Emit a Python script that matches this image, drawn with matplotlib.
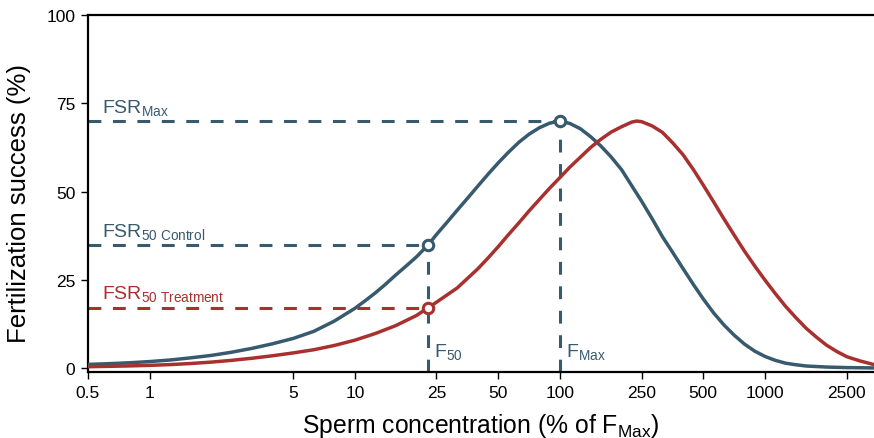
import matplotlib
matplotlib.use("Agg")
import matplotlib.pyplot as plt
from matplotlib.ticker import FixedLocator, NullLocator, FixedFormatter

plt.rcParams['font.family'] = ['Liberation Sans', 'DejaVu Sans']
plt.rcParams['mathtext.fontset'] = 'custom'
plt.rcParams['mathtext.rm'] = 'Liberation Sans'
plt.rcParams['mathtext.it'] = 'Liberation Sans:italic'
plt.rcParams['mathtext.bf'] = 'Liberation Sans:bold'

# ---- data (sperm concentration, % of F_Max) ----
control_x = [0.5, 0.63, 0.79, 1, 1.26, 1.58, 2.0, 2.51, 3.16, 3.98, 5.01, 6.31, 7.94,
             10, 11.2, 12.6, 14.1, 15.8, 17.8, 20, 22.8, 25.1, 28.2, 31.6, 35.5, 39.8,
             44.7, 50.1, 56.2, 63.1, 70.8, 79.4, 89.1, 100, 112, 126, 141, 158, 178, 200,
             224, 251, 282, 316, 355, 398, 447, 501, 562, 631, 708, 794, 891, 1000, 1122,
             1259, 1413, 1585, 1995, 2512, 3400]
control_y = [1.15, 1.35, 1.6, 1.95, 2.4, 3.0, 3.7, 4.6, 5.7, 7.0, 8.5, 10.5, 13.4,
             17.0, 19.1, 21.4, 23.8, 26.4, 29.0, 31.6, 35.0, 38.0, 41.4, 44.8, 48.2, 51.6,
             55.0, 58.2, 61.2, 64.0, 66.3, 68.1, 69.4, 70.0, 69.3, 67.8, 65.6, 63.0, 59.8, 56.2,
             51.7, 47.2, 42.3, 37.3, 32.8, 28.3, 23.8, 19.6, 15.7, 12.3, 9.4, 6.9, 4.9, 3.4, 2.3,
             1.5, 1.05, 0.7, 0.4, 0.25, 0.15]

treat_x = [0.5, 0.63, 0.79, 1, 1.26, 1.58, 2.0, 2.51, 3.16, 3.98, 5.01, 6.31, 7.94,
           10, 12.6, 15.8, 20, 22.8, 25.1, 31.6, 39.8, 44.7, 50.1, 56.2, 63.1, 70.8, 79.4,
           89.1, 100, 112, 126, 141, 158, 178, 200, 224, 237, 251, 282, 316, 355, 398, 447,
           501, 562, 631, 708, 794, 891, 1000, 1122, 1259, 1413, 1585, 1778, 1995, 2239,
           2512, 2917, 3400]
treat_y = [0.5, 0.6, 0.72, 0.88, 1.1, 1.4, 1.8, 2.3, 2.9, 3.6, 4.4, 5.3, 6.5,
           8.0, 9.9, 12.1, 15.0, 17.2, 18.8, 22.8, 28.2, 31.3, 34.5, 37.9, 41.2, 44.6, 47.8,
           51.0, 54.0, 57.0, 59.8, 62.5, 64.8, 66.9, 68.4, 69.7, 70.0, 69.8, 68.6, 66.8, 63.8,
           60.5, 56.3, 51.8, 47.1, 42.3, 37.7, 33.2, 29.0, 25.0, 21.2, 17.6, 14.4, 11.4, 8.9,
           6.6, 4.8, 3.3, 2.1, 1.1]

fsr_max = 70.0
f_max = 100
f50 = 22.8
fsr50_control = 35.0
fsr50_treatment = 17.2

xticks = [0.5, 1, 5, 10, 25, 50, 100, 250, 500, 1000, 2500]
xtick_labels = ['0.5', '1', '5', '10', '25', '50', '100', '250', '500', '1000', '2500']
yticks = [0, 25, 50, 75, 100]

BLUE = '#385a6e'
RED = '#a8302f'

fig = plt.figure(figsize=(8.74, 4.39), dpi=100)
ax = fig.add_axes([88/874, 1-373/439, 1-88/874, (373-16)/439])
ax.set_xscale('log')
ax.set_xlim(0.5, 3400)
ax.set_ylim(-1, 100)

dash_kw = dict(lw=2.2, dashes=(4.2, 3.8), zorder=2)
# horizontal guides
ax.plot([0.5, f_max], [fsr_max, fsr_max], color=BLUE, **dash_kw)
ax.plot([0.5, f50], [fsr50_control, fsr50_control], color=BLUE, **dash_kw)
ax.plot([0.5, f50], [fsr50_treatment, fsr50_treatment], color=RED, **dash_kw)
# vertical guides
ax.plot([f_max, f_max], [-1, fsr_max], color=BLUE, **dash_kw)
ax.plot([f50, f50], [-1, fsr50_control], color=BLUE, **dash_kw)

ax.plot(control_x, control_y, color=BLUE, lw=2.5, zorder=3,
        solid_capstyle='round', solid_joinstyle='round')
ax.plot(treat_x, treat_y, color=RED, lw=2.5, zorder=3,
        solid_capstyle='round', solid_joinstyle='round')

mk = dict(marker='o', ms=7.5, mfc='white', mew=2.2, ls='none', zorder=5, clip_on=False)
ax.plot([f_max], [fsr_max], mec=BLUE, **mk)
ax.plot([f50], [fsr50_control], mec=BLUE, **mk)
ax.plot([f50], [fsr50_treatment], mec=RED, **mk)

# labels
lab = dict(fontsize=14, va='baseline')
ax.text(0.585, 72.6, r'FSR$_{\mathrm{Max}}$', color=BLUE, **lab)
ax.text(0.585, 37.6, r'FSR$_{\mathrm{50\ Control}}$', color=BLUE, **lab)
ax.text(0.585, 19.8, r'FSR$_{\mathrm{50\ Treatment}}$', color=RED, **lab)
ax.text(24.2, 3.4, r'F$_{\mathrm{50}}$', color=BLUE, **lab)
ax.text(107, 3.4, r'F$_{\mathrm{Max}}$', color=BLUE, **lab)

ax.xaxis.set_major_locator(FixedLocator(xticks))
ax.xaxis.set_major_formatter(FixedFormatter(xtick_labels))
ax.xaxis.set_minor_locator(NullLocator())
ax.yaxis.set_major_locator(FixedLocator(yticks))
ax.yaxis.set_minor_locator(NullLocator())

for s in ['left', 'bottom', 'top']:
    ax.spines[s].set_linewidth(1.6)
ax.spines['right'].set_visible(False)
ax.tick_params(axis='both', which='major', direction='out', length=5, width=1.0,
               labelsize=12.5, pad=4, colors='black')

ax.set_xlabel(r'Sperm concentration (% of F$_{\mathrm{Max}}$)', fontsize=17.8, labelpad=8)
ax.set_ylabel('Fertilization success (%)', fontsize=18.5)
ax.yaxis.set_label_coords(-0.072, 0.475)

fig.savefig('out.png', dpi=100)
